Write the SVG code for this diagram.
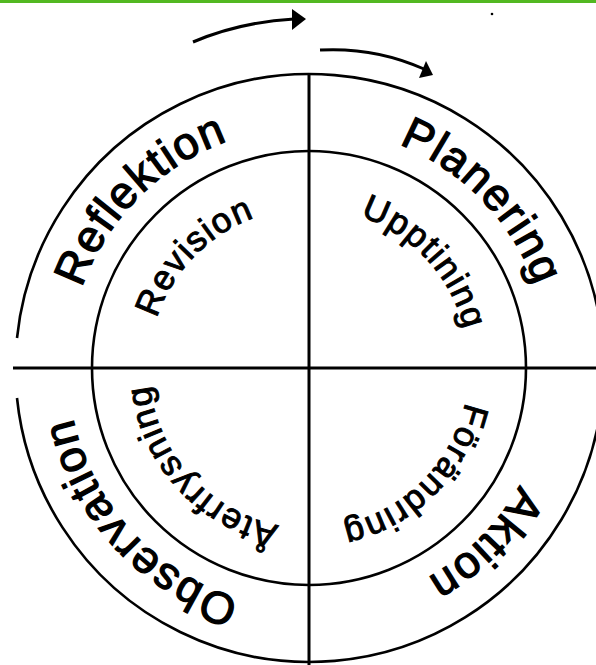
<svg xmlns="http://www.w3.org/2000/svg" xmlns:xlink="http://www.w3.org/1999/xlink" width="596" height="665" viewBox="0 0 596 665">
  <style>
    .ln { fill: none; stroke: #000; stroke-width: 3; }
    .ci { fill: none; stroke: #000; stroke-width: 2.6; }
    .outer { font-family: "Liberation Sans", Arial, sans-serif; font-size: 45px; letter-spacing: 1.5px; fill: #000; stroke: #000; stroke-width: 1.3; }
    .inner { font-family: "Liberation Sans", Arial, sans-serif; font-size: 35px; letter-spacing: 1.5px; fill: #000; stroke: #000; stroke-width: 1; }
  </style>
  <defs>
    <path id="po" d="M 68,368 A 241 241 0 1 1 550,368 A 241 241 0 1 1 68,368"/>
    <path id="pi" d="M 149,368 A 160 160 0 1 1 469,368 A 160 160 0 1 1 149,368"/>
  </defs>
  <rect x="0" y="0" width="596" height="665" fill="#fff"/>
  <rect x="0" y="0" width="596" height="3" fill="#52b821"/>
  <circle cx="492" cy="14" r="1.3" fill="#000"/>

  <g id="frame">
    <path class="ci" d="M 17,338 A 294 294 0 1 1 17,398"/>
    <circle class="ci" cx="309" cy="368" r="217"/>
    <line class="ln" x1="309" y1="74" x2="309" y2="665"/>
    <line class="ln" x1="13" y1="368" x2="596" y2="368"/>
  </g>

  <g id="reflektion">
    <text class="outer"><textPath xlink:href="#po" href="#po" startOffset="12.5%" text-anchor="middle">Reflektion</textPath></text>
    <text class="inner"><textPath xlink:href="#pi" href="#pi" startOffset="12.3%" text-anchor="middle">Revision</textPath></text>
  </g>
  <g id="planering">
    <text class="outer"><textPath xlink:href="#po" href="#po" startOffset="37.8%" text-anchor="middle">Planering</textPath></text>
    <text class="inner"><textPath xlink:href="#pi" href="#pi" startOffset="38.2%" text-anchor="middle">Upptining</textPath></text>
  </g>
  <g id="aktion">
    <text class="outer"><textPath xlink:href="#po" href="#po" startOffset="62.5%" text-anchor="middle">Aktion</textPath></text>
    <text class="inner"><textPath xlink:href="#pi" href="#pi" startOffset="62.6%" text-anchor="middle">Förändring</textPath></text>
  </g>
  <g id="observation">
    <text class="outer"><textPath xlink:href="#po" href="#po" startOffset="88.2%" text-anchor="middle">Observation</textPath></text>
    <text class="inner"><textPath xlink:href="#pi" href="#pi" startOffset="88.2%" text-anchor="middle">Återfrysning</textPath></text>
  </g>

  <g id="connectors">
    <path class="ln" d="M 193,42 Q 240,22 294,19"/>
    <polygon points="292,9 306,19 292,30" fill="#000"/>
    <path class="ln" d="M 320,50 Q 375,47 424,69"/>
    <polygon points="419,78 426,61 433,75" fill="#000"/>
  </g>
</svg>
